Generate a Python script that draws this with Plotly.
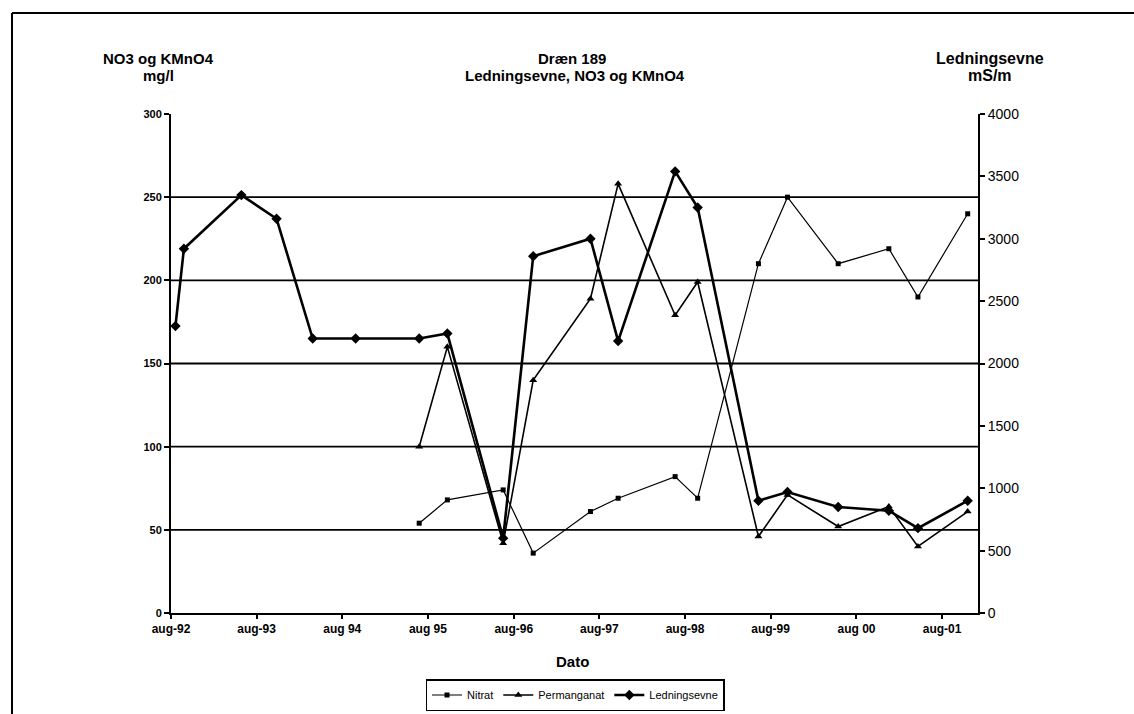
import plotly.graph_objects as go

# Sampling dates (shared by all series from mid-1995 on)
dates = [
    "1992-08-20", "1992-09-25", "1993-05-28", "1993-10-25", "1994-03-28",
    "1994-09-27", "1995-06-25", "1995-10-23", "1996-06-17", "1996-10-23",
    "1997-06-24", "1997-10-20", "1998-06-20", "1998-09-24", "1999-06-10",
    "1999-10-12", "2000-05-15", "2000-12-17", "2001-04-20", "2001-11-18",
]

# Ledningsevne, mS/m (right axis)
ledningsevne = [
    2300, 2920, 3350, 3160, 2200, 2200, 2200, 2240, 600, 2860,
    3000, 2180, 3540, 3250, 900, 970, 850, 820, 680, 900,
]

# NO3 and KMnO4, mg/l (left axis), measured from June 1995
chem_dates = dates[6:]
nitrat = [54, 68, 74, 36, 61, 69, 82, 69, 210, 250, 210, 219, 190, 240]
permanganat = [100, 160, 42, 140, 189, 258, 179, 199, 46, 71, 52, 64, 40, 61]

# Axis ticks
x_tickvals = [
    "1992-08-01", "1993-08-01", "1994-08-01", "1995-08-01", "1996-08-01",
    "1997-08-01", "1998-08-01", "1999-08-01", "2000-08-01", "2001-08-01",
]
x_ticktext = ["aug-92", "aug-93", "aug 94", "aug 95", "aug-96",
              "aug-97", "aug-98", "aug-99", "aug 00", "aug-01"]
x_range = ["1992-08-01", "2002-01-01"]
left_ticks = [0, 50, 100, 150, 200, 250, 300]
right_ticks = [0, 500, 1000, 1500, 2000, 2500, 3000, 3500, 4000]

FONT = "Liberation Sans, Arial, sans-serif"
W, H = 1134, 714
ML, MR, MT, MB = 171, 156, 114, 101
PW, PH = W - ML - MR, H - MT - MB


def px_x(x):
    return (x - ML) / PW


def px_y(y):
    return (H - MB - y) / PH


fig = go.Figure()

fig.add_trace(go.Scatter(
    x=chem_dates, y=nitrat, name="Nitrat", mode="lines+markers",
    line=dict(color="black", width=1.2),
    marker=dict(symbol="square", size=5, color="black"),
))
fig.add_trace(go.Scatter(
    x=chem_dates, y=permanganat, name="Permanganat", mode="lines+markers",
    line=dict(color="black", width=1.6),
    marker=dict(symbol="triangle-up", size=7, color="black"),
))
fig.add_trace(go.Scatter(
    x=dates, y=ledningsevne, name="Ledningsevne", mode="lines+markers",
    yaxis="y2",
    line=dict(color="black", width=2.6),
    marker=dict(symbol="diamond", size=8, color="black"),
))

shapes = []
# horizontal reference lines at the inner left-axis ticks
for v in left_ticks[1:-1]:
    shapes.append(dict(type="line", xref="paper", yref="y", x0=0, x1=1,
                       y0=v, y1=v, line=dict(color="black", width=1.8),
                       layer="below"))
# page frame (top and left edge)
shapes.append(dict(type="line", xref="paper", yref="paper",
                   x0=px_x(12), x1=px_x(1140), y0=px_y(13), y1=px_y(13),
                   line=dict(color="black", width=2)))
shapes.append(dict(type="line", xref="paper", yref="paper",
                   x0=px_x(12), x1=px_x(12), y0=px_y(13), y1=px_y(720),
                   line=dict(color="black", width=2)))


def label(text, x, y, size=15):
    return dict(text="<b>%s</b>" % text, xref="paper", yref="paper",
                x=px_x(x), y=px_y(y), showarrow=False,
                xanchor="center", yanchor="middle",
                font=dict(family=FONT, size=size, color="black"))


annotations = [
    label("NO3 og KMnO4", 158, 58),
    label("mg/l", 158, 76),
    label("Dræn 189", 572, 58),
    label("Ledningsevne, NO3 og KMnO4", 575, 76),
    label("Ledningsevne", 990, 58, size=16),
    label("mS/m", 990, 76, size=16),
    label("Dato", 572, 661, size=15),
]

fig.update_layout(
    width=W, height=H,
    margin=dict(l=ML, r=MR, t=MT, b=MB, pad=0, autoexpand=False),
    paper_bgcolor="white", plot_bgcolor="white",
    font=dict(family=FONT, color="black"),
    showlegend=True,
    legend=dict(
        orientation="h", x=px_x(575), xanchor="center",
        y=px_y(679), yanchor="top",
        bordercolor="black", borderwidth=1.5, bgcolor="white",
        font=dict(family=FONT, size=11, color="black"),
        itemwidth=30, tracegroupgap=0,
    ),
    xaxis=dict(
        type="date", range=x_range,
        tickvals=x_tickvals, ticktext=x_ticktext,
        showgrid=False, zeroline=False,
        showline=True, linecolor="black", linewidth=2,
        ticks="outside", ticklen=4, tickcolor="black", tickwidth=1.5,
        tickfont=dict(family=FONT, size=12, color="black", weight="bold"),
    ),
    yaxis=dict(
        range=[0, 300], tickvals=left_ticks,
        showgrid=False, zeroline=False,
        showline=True, linecolor="black", linewidth=2,
        ticks="outside", ticklen=5, tickcolor="black", tickwidth=1.5,
        tickfont=dict(family=FONT, size=11, color="black", weight="bold"),
    ),
    yaxis2=dict(
        range=[0, 4000], tickvals=right_ticks,
        overlaying="y", side="right",
        showgrid=False, zeroline=False,
        showline=True, linecolor="black", linewidth=2,
        ticks="outside", ticklen=5, tickcolor="black", tickwidth=1.5,
        tickfont=dict(family=FONT, size=14, color="black"),
    ),
    shapes=shapes,
    annotations=annotations,
)

fig.write_html("out.html")
